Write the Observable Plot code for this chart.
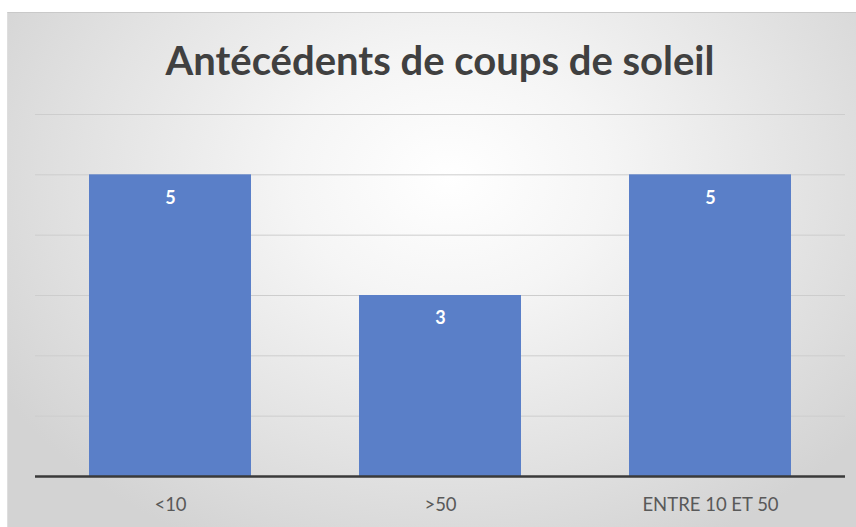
<!DOCTYPE html>
<html><head><meta charset="utf-8">
<script src="https://cdn.jsdelivr.net/npm/d3@7"></script>
<script src="https://cdn.jsdelivr.net/npm/@observablehq/plot@0.6"></script>
<style>
body{margin:0;background:#fff;}
#wrap{position:relative;width:856px;height:527px;overflow:hidden;background:#fff;}
#panel{position:absolute;left:7px;top:12px;width:849px;height:515px;
  background:radial-gradient(ellipse 62% 80% at 52% 32%, #ffffff 0%, #f5f5f5 30%, #e2e2e2 70%, #d3d3d3 100%);
  border-top:1px solid #c9c9c9;border-left:1px solid #dedede;}
#title{position:absolute;left:0;top:36px;width:880px;text-align:center;font:bold 40px Lato,sans-serif;color:#404040;}
#chart{position:absolute;left:0;top:100px;}
</style></head>
<body>
<div id="wrap">
  <div id="panel"></div>
  <div id="title">Antécédents de coups de soleil</div>
  <div id="chart"></div>
</div>
<script>
const categories = ["<10", ">50", "ENTRE 10 ET 50"];
const values = [5, 3, 5];
const gridTicks = [1, 2, 3, 4, 5, 6];

const data = categories.map((c, i) => ({cat: c, val: values[i]}));

const chart = Plot.plot({
  width: 856,
  height: 427,
  marginTop: 14,
  marginBottom: 51,
  marginLeft: 35,
  marginRight: 11,
  style: {fontFamily: "Lato, sans-serif", background: "transparent", overflow: "visible"},
  x: {type: "band", domain: categories, paddingInner: 0.4, paddingOuter: 0.2, label: null},
  y: {domain: [0, 6], axis: null},
  marks: [
    Plot.ruleY(gridTicks, {stroke: "#cdcdcd", strokeWidth: 1}),
    Plot.barY(data, {x: "cat", y: "val", fill: "#5a7fc8"}),
    Plot.ruleY([0], {stroke: "#3a3a3a", strokeWidth: 2.5}),
    Plot.text(data, {x: "cat", y: "val", text: d => String(d.val), dy: 23, fill: "#ffffff", fontWeight: "bold", fontSize: 18}),
    Plot.axisX({tickSize: 0, tickPadding: 21, fontSize: 18.5, fill: "#595959", label: null})
  ]
});
document.getElementById("chart").appendChild(chart);
</script>
</body></html>
